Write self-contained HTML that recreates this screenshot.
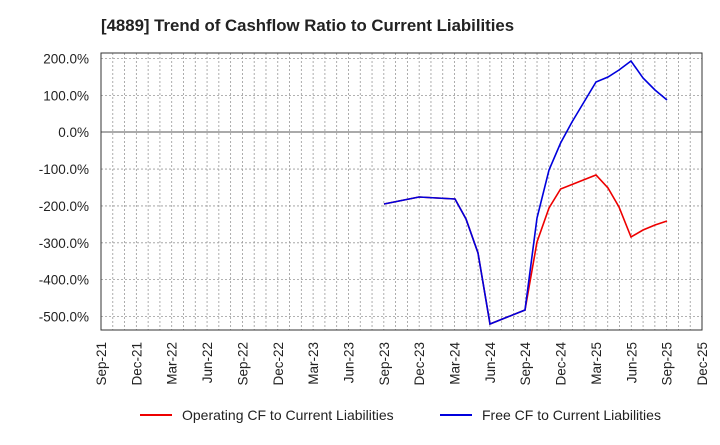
<!DOCTYPE html><html><head><style>body{margin:0;background:#fff}svg{font-family:"Liberation Sans",sans-serif}</style></head><body>
<svg width="720" height="440" xmlns="http://www.w3.org/2000/svg">
<text x="101" y="31" font-size="16.8" font-weight="bold" fill="#222">[4889]  Trend of Cashflow Ratio to Current Liabilities</text>
<g id="grid" stroke="#999" stroke-dasharray="2,2" stroke-width="0.8"></g>
<line x1="101" y1="132" x2="702" y2="132" stroke="#555" stroke-width="1"/>
<rect x="101" y="53" width="601" height="277" fill="none" stroke="#333" stroke-width="1"/>
<g id="yl" font-size="13.5" fill="#222" text-anchor="end"></g>
<g id="xl" font-size="13.5" fill="#222"></g>
<polyline fill="none" stroke="#e00" stroke-width="1.6" points="384,204 419,197 455,199 466,219 478,253 490,324 525,310 537,242 549,208 560.6,189 596,175 608,188 619,207 631,237 643,230 655,225 667,221"/>
<polyline fill="none" stroke="#00d" stroke-width="1.6" points="384,204 419,197 455,199 466,219 478,253 490,324 525,310 537,218 549,170 560.6,143 572,122 584,102 596,82 608,77 619,70 631,61 643,78 655,90 667,100"/>
<line x1="140" y1="415" x2="172" y2="415" stroke="#e00" stroke-width="2"/>
<text x="182" y="420" font-size="14" fill="#222">Operating CF to Current Liabilities</text>
<line x1="440" y1="415" x2="472" y2="415" stroke="#00d" stroke-width="2"/>
<text x="482" y="420" font-size="14" fill="#222">Free CF to Current Liabilities</text>
</svg>
<script>
var g=document.getElementById('grid'),s='',yl='',xl='';
for(var i=1;i<51;i++){var x=101+i*601/51;s+='<line x1="'+x+'" y1="53" x2="'+x+'" y2="330"/>';}
var labs=['200.0%','100.0%','0.0%','-100.0%','-200.0%','-300.0%','-400.0%','-500.0%'];
for(var j=0;j<8;j++){var y=58.5+j*36.86;if(j!=2)s+='<line x1="101" y1="'+y+'" x2="702" y2="'+y+'"/>';yl+='<text x="89" y="'+(y+5)+'">'+labs[j]+'</text>';}
g.innerHTML=s;document.getElementById('yl').innerHTML=yl;
var m=['Sep','Dec','Mar','Jun'];
for(var k=0;k<18;k++){var x=101+k*601/17;var yr=21+Math.floor((k+2)/4);var t=m[k%4]+'-'+yr;xl+='<text transform="translate('+(x+5)+',342) rotate(-90)" text-anchor="end">'+t+'</text>';}
document.getElementById('xl').innerHTML=xl;
</script>
</body></html>
